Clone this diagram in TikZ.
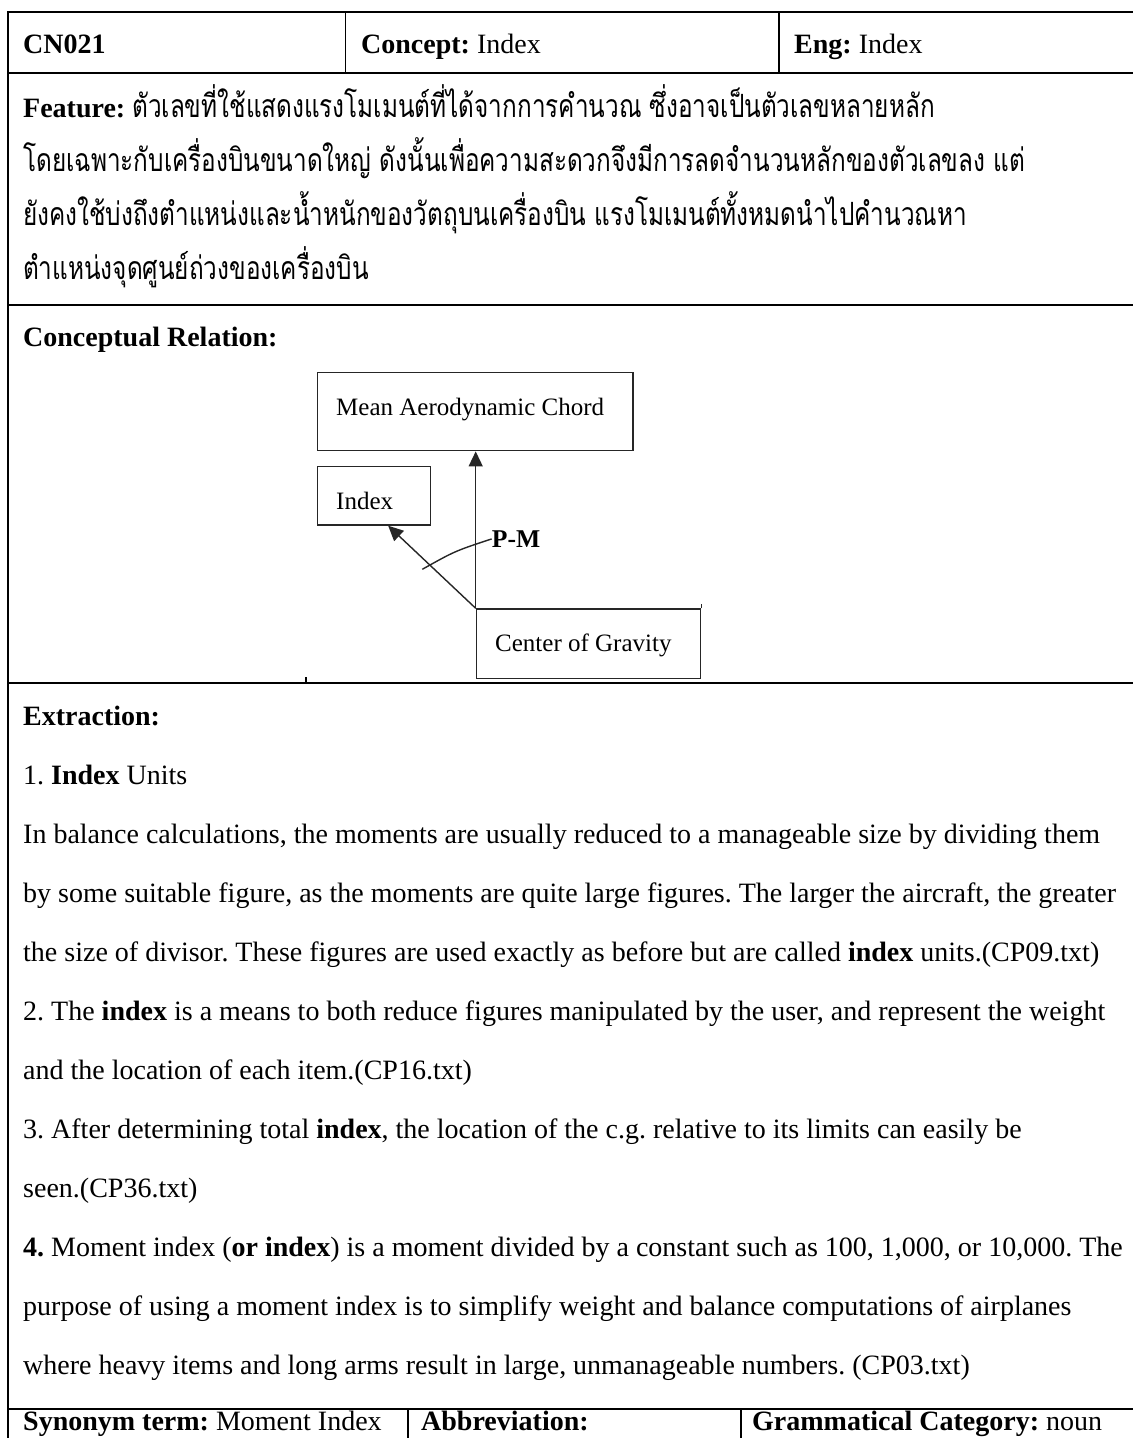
\documentclass[tikz,border=0pt]{standalone}
\usepackage{fontspec}
\setmainfont{Liberation Serif}
\newfontfamily\thaifont[Script=Thai]{Loma}
\usetikzlibrary{arrows.meta,calc}
\frenchspacing
% narrow Thai setting
\newcommand{\thl}[1]{\scalebox{0.76}[1]{\thaifont #1}}

\begin{document}
\begin{tikzpicture}[x=1pt,y=-1pt,
  txt/.style={anchor=base west, inner sep=0pt, font=\fontsize{28}{30}\selectfont},
  thai/.style={anchor=base west, inner sep=0pt, font=\fontsize{32}{34}\selectfont},
  hline/.style={line width=2pt},
  vline/.style={line width=1.4pt},
  box/.style={draw=black!85, line width=1.4pt, inner sep=0pt, anchor=north west},
  dtxt/.style={anchor=base west, inner sep=0pt, font=\fontsize{25}{28}\selectfont},
  rel/.style={draw=black!85, line width=1.4pt, -{Triangle[width=14pt,length=15pt]}},
]
\useasboundingbox (0,0) rectangle (1133,1438);

% table rules
\draw[hline] (8,12) -- (1133,12);
\draw[hline] (8,72.7) -- (1133,72.7);
\draw[hline] (8,305) -- (1133,305);
\draw[hline] (8,683) -- (1133,683);
\draw[hline] (8,1409) -- (1133,1409);
\draw[vline] (8,11) -- (8,1438);
\draw[vline] (345.7,12) -- (345.7,72.7);
\draw[vline] (779,12) -- (779,72.7);
\draw[vline] (408,1409) -- (408,1438);
\draw[vline] (741,1409) -- (741,1438);

% header row
\node[txt] (id) at (23,53) {\textbf{CN021}};
\node[txt] (concept) at (361,53) {\textbf{Concept:} Index};
\node[txt] (eng) at (794,53) {\textbf{Eng:} Index};

% feature
\node[txt] (f1) at (23,117) {\textbf{Feature:} {\fontsize{32}{34}\selectfont\thl{ตัวเลขที่ใช้แสดงแรงโมเมนต์ที่ได้จากการคำนวณ ซึ่งอาจเป็นตัวเลขหลายหลัก}}};
\node[thai] (f2) at (23,171) {\thl{โดยเฉพาะกับเครื่องบินขนาดใหญ่ ดังนั้นเพื่อความสะดวกจึงมีการลดจำนวนหลักของตัวเลขลง แต่}};
\node[thai] (f3) at (23,225) {\thl{ยังคงใช้บ่งถึงตำแหน่งและน้ำหนักของวัตถุบนเครื่องบิน แรงโมเมนต์ทั้งหมดนำไปคำนวณหา}};
\node[thai] (f4) at (23,279) {\thl{ตำแหน่งจุดศูนย์ถ่วงของเครื่องบิน}};

% conceptual relation
\node[txt] (cr) at (23,346) {\textbf{Conceptual Relation:}};

\node[box, minimum width=315.6pt, minimum height=78.3pt] (mac) at (316.7,371.7) {};
\node[box, minimum width=113.3pt, minimum height=58.6pt] (index) at (316.7,465.7) {};
\node[box, minimum width=224.3pt, minimum height=69.7pt] (cog) at (475.7,608.3) {};
\node[dtxt] (mact) at (336,415) {Mean Aerodynamic Chord};
\node[dtxt] (indext) at (336,509.3) {Index};
\node[dtxt] (cogt) at (495,651.7) {Center of Gravity};
\node[anchor=base west, inner sep=0pt, font=\fontsize{25.6}{28}\selectfont\bfseries] (pm) at (491.7,547.3) {P-M};

\draw[rel] (cog.north west) -- (cog.north west |- mac.south);
\draw[rel] (cog.north west) -- ($(index.south west)!0.623!(index.south east)$);
\coordinate (arcend) at (422.3,569.3);
\draw[draw=black!85, line width=1.4pt] (pm.west) .. controls (455,551) .. (arcend);
\draw[draw=black!85, line width=1.4pt] (cog.north east) -- ++(0,-4);
\draw[line width=1.4pt] (306,677) -- (306,683);

% extraction
\node[txt] (ex) at (23,725) {\textbf{Extraction:}};
\node[txt] (e1) at (23,784) {1. \textbf{Index} Units};
\node[txt] (e2) at (23,843) {In balance calculations, the moments are usually reduced to a manageable size by dividing them};
\node[txt] (e3) at (23,902) {by some suitable figure, as the moments are quite large figures. The larger the aircraft, the greater};
\node[txt] (e4) at (23,961) {the size of divisor. These figures are used exactly as before but are called \textbf{index} units.(CP09.txt)};
\node[txt] (e5) at (23,1020) {2. The \textbf{index} is a means to both reduce figures manipulated by the user, and represent the weight};
\node[txt] (e6) at (23,1079) {and the location of each item.(CP16.txt)};
\node[txt] (e7) at (23,1138) {3. After determining total \textbf{index}, the location of the c.g. relative to its limits can easily be};
\node[txt] (e8) at (23,1197) {seen.(CP36.txt)};
\node[txt] (e9) at (23,1256) {\textbf{4.} Moment index (\textbf{or index}) is a moment divided by a constant such as 100, 1,000, or 10,000. The};
\node[txt] (e10) at (23,1315) {purpose of using a moment index is to simplify weight and balance computations of airplanes};
\node[txt] (e11) at (23,1374) {where heavy items and long arms result in large, unmanageable numbers. (CP03.txt)};

% bottom row
\node[txt] (syn) at (23,1430) {\textbf{Synonym term:} Moment Index};
\node[txt] (abbr) at (421,1430) {\textbf{Abbreviation:}};
\node[txt] (gram) at (752,1430) {\textbf{Grammatical Category:} noun};
\end{tikzpicture}
\end{document}
